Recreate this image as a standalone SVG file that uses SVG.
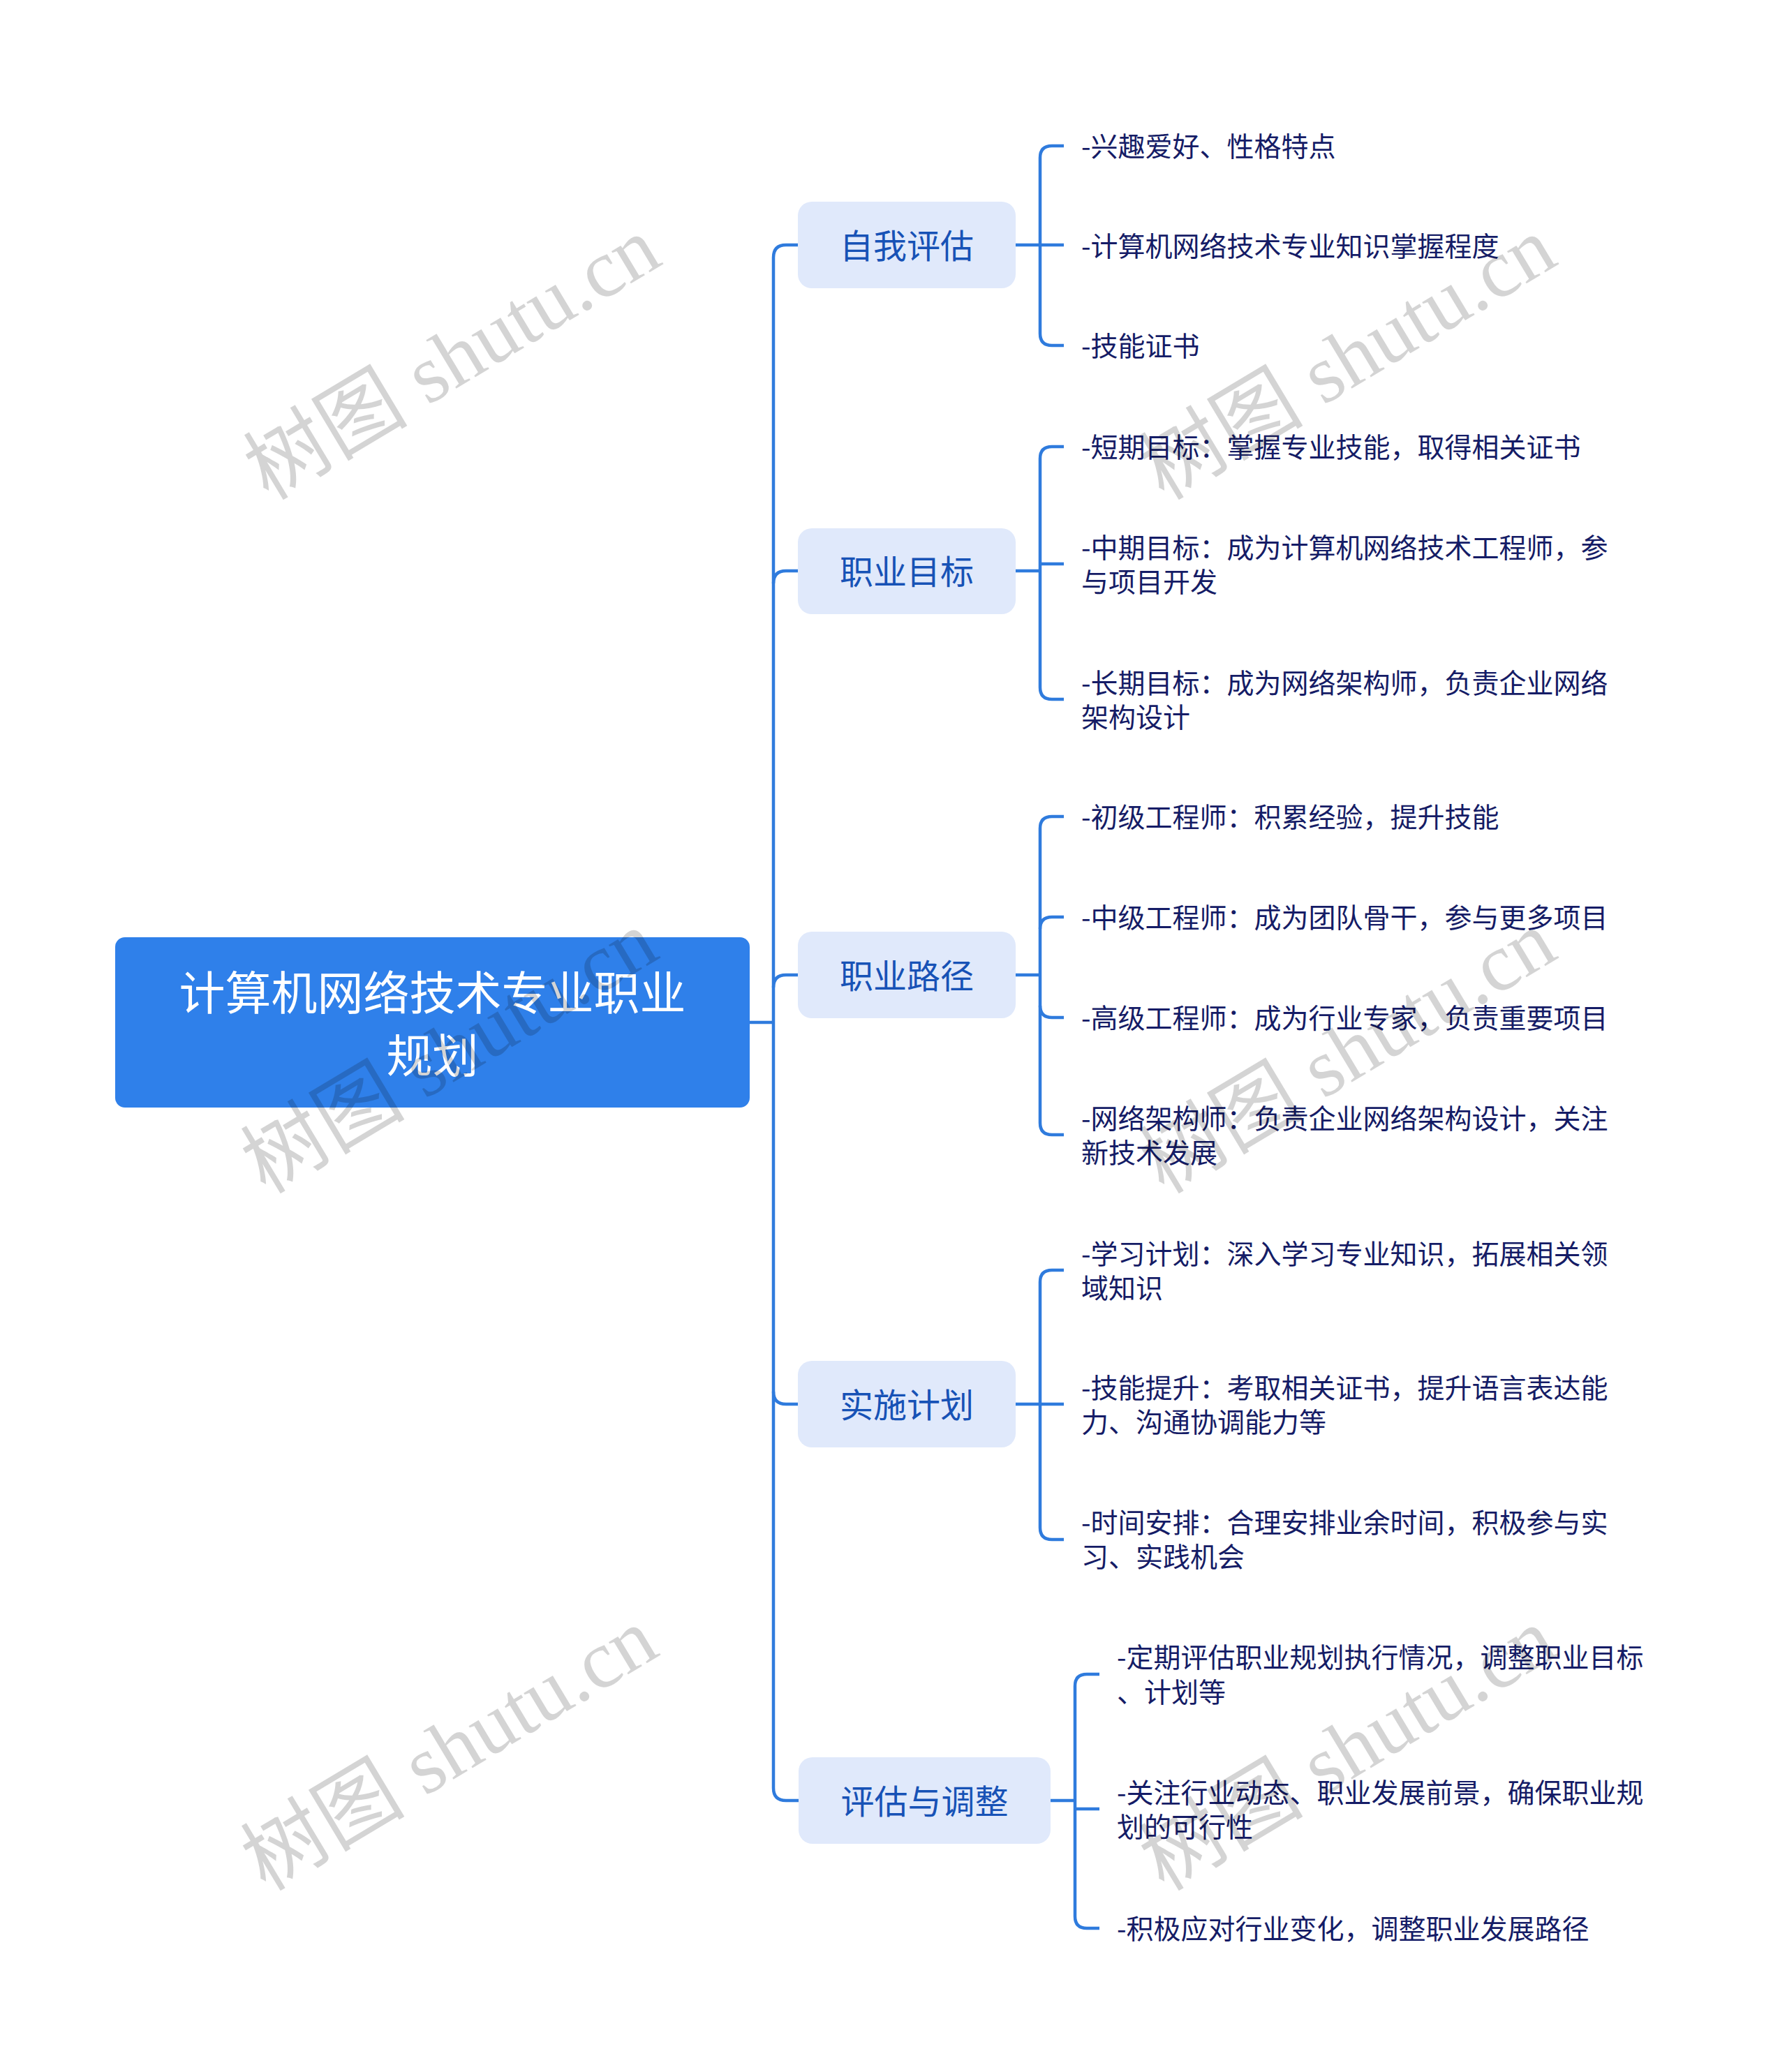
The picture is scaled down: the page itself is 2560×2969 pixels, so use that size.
<svg xmlns="http://www.w3.org/2000/svg" width="2560" height="2969" viewBox="0 0 2560 2969">
<style>
.root{fill:#2F80EA;}
.rt{font-family:"Noto Sans CJK SC","Noto Sans",sans-serif;font-size:66px;fill:#FFFFFF;text-anchor:middle;dominant-baseline:central;}
.br{fill:#E0E9FB;}
.bt{font-family:"Noto Sans CJK SC","Noto Sans",sans-serif;font-size:48px;fill:#1752B6;text-anchor:middle;dominant-baseline:central;}
.lt{font-family:"Noto Sans CJK SC","Noto Sans",sans-serif;font-size:39px;fill:#151C66;dominant-baseline:central;}
.ln{fill:none;stroke:#2F7BDD;stroke-width:4.5;stroke-linecap:butt;}
.wm{font-family:"Liberation Serif","Noto Sans CJK SC",serif;font-size:118px;fill:#000;fill-opacity:0.17;text-anchor:middle;dominant-baseline:central;}
</style>
<rect width="2560" height="2969" fill="#FFFFFF"/>
<g id="connectors">
  <path class="ln" d="M1074 1465 H1108"/>
  <path class="ln" d="M1143 351 H1126 Q1108 351 1108 369 V2562 Q1108 2580 1126 2580 H1144"/>
  <path class="ln" d="M1108 836 Q1108 818 1126 818 H1143"/>
  <path class="ln" d="M1108 1415 Q1108 1397 1126 1397 H1143"/>
  <path class="ln" d="M1108 1994 Q1108 2012 1126 2012 H1143"/>
  <path class="ln" d="M1455 351 H1524"/>
  <path class="ln" d="M1524 209 H1507 Q1490 209 1490 226 V478 Q1490 495 1507 495 H1524"/>
  <path class="ln" d="M1455 818 H1490"/>
  <path class="ln" d="M1524 640 H1507 Q1490 640 1490 657 V985 Q1490 1002 1507 1002 H1524"/>
  <path class="ln" d="M1490 808 H1524"/>
  <path class="ln" d="M1455 1397 H1490"/>
  <path class="ln" d="M1524 1170 H1507 Q1490 1170 1490 1187 V1609 Q1490 1626 1507 1626 H1524"/>
  <path class="ln" d="M1524 1314 H1507 Q1490 1314 1490 1331"/>
  <path class="ln" d="M1524 1458 H1507 Q1490 1458 1490 1441"/>
  <path class="ln" d="M1455 2012 H1524"/>
  <path class="ln" d="M1524 1820 H1507 Q1490 1820 1490 1837 V2189 Q1490 2206 1507 2206 H1524"/>
  <path class="ln" d="M1505 2580 H1540"/>
  <path class="ln" d="M1575 2399 H1557 Q1540 2399 1540 2416 V2746 Q1540 2763 1557 2763 H1575"/>
  <path class="ln" d="M1540 2592 H1575"/>
</g>
<g id="root">
  <rect class="root" x="165" y="1343" width="909" height="244" rx="14"/>
  <text class="rt" x="619.5" y="1418">计算机网络技术专业职业</text>
  <text class="rt" x="619.5" y="1508">规划</text>
</g>
<g id="b1">
  <rect class="br" x="1143" y="289" width="312" height="124" rx="20"/>
  <text class="bt" x="1299" y="349">自我评估</text>
</g>
<g id="b2">
  <rect class="br" x="1143" y="757" width="312" height="123" rx="20"/>
  <text class="bt" x="1299" y="816">职业目标</text>
</g>
<g id="b3">
  <rect class="br" x="1143" y="1335" width="312" height="124" rx="20"/>
  <text class="bt" x="1299" y="1395">职业路径</text>
</g>
<g id="b4">
  <rect class="br" x="1143" y="1950" width="312" height="124" rx="20"/>
  <text class="bt" x="1299" y="2010">实施计划</text>
</g>
<g id="b5">
  <rect class="br" x="1144" y="2518" width="361" height="124" rx="20"/>
  <text class="bt" x="1324.5" y="2578">评估与调整</text>
</g>
<g id="l1a"><text class="lt" x="1549" y="207">-兴趣爱好、性格特点</text></g>
<g id="l1b"><text class="lt" x="1549" y="350">-计算机网络技术专业知识掌握程度</text></g>
<g id="l1c"><text class="lt" x="1549" y="493">-技能证书</text></g>
<g id="l2a"><text class="lt" x="1549" y="638">-短期目标：掌握专业技能，取得相关证书</text></g>
<g id="l2b"><text class="lt" x="1549" y="782">-中期目标：成为计算机网络技术工程师，参</text><text class="lt" x="1549" y="831">与项目开发</text></g>
<g id="l2c"><text class="lt" x="1549" y="976">-长期目标：成为网络架构师，负责企业网络</text><text class="lt" x="1549" y="1025">架构设计</text></g>
<g id="l3a"><text class="lt" x="1549" y="1168">-初级工程师：积累经验，提升技能</text></g>
<g id="l3b"><text class="lt" x="1549" y="1312">-中级工程师：成为团队骨干，参与更多项目</text></g>
<g id="l3c"><text class="lt" x="1549" y="1456">-高级工程师：成为行业专家，负责重要项目</text></g>
<g id="l3d"><text class="lt" x="1549" y="1600">-网络架构师：负责企业网络架构设计，关注</text><text class="lt" x="1549" y="1649">新技术发展</text></g>
<g id="l4a"><text class="lt" x="1549" y="1794">-学习计划：深入学习专业知识，拓展相关领</text><text class="lt" x="1549" y="1843">域知识</text></g>
<g id="l4b"><text class="lt" x="1549" y="1986">-技能提升：考取相关证书，提升语言表达能</text><text class="lt" x="1549" y="2035">力、沟通协调能力等</text></g>
<g id="l4c"><text class="lt" x="1549" y="2179">-时间安排：合理安排业余时间，积极参与实</text><text class="lt" x="1549" y="2228">习、实践机会</text></g>
<g id="l5a"><text class="lt" x="1600" y="2372">-定期评估职业规划执行情况，调整职业目标</text><text class="lt" x="1600" y="2422">、计划等</text></g>
<g id="l5b"><text class="lt" x="1600" y="2566">-关注行业动态、职业发展前景，确保职业规</text><text class="lt" x="1600" y="2615">划的可行性</text></g>
<g id="l5c"><text class="lt" x="1600" y="2761">-积极应对行业变化，调整职业发展路径</text></g>
<g id="watermarks">
  <text class="wm" x="648" y="514" transform="rotate(-31 648 514)">树图 shutu.cn</text>
  <text class="wm" x="1931" y="514" transform="rotate(-31 1931 514)">树图 shutu.cn</text>
  <text class="wm" x="644" y="1508" transform="rotate(-31 644 1508)">树图 shutu.cn</text>
  <text class="wm" x="1931" y="1508" transform="rotate(-31 1931 1508)">树图 shutu.cn</text>
  <text class="wm" x="644" y="2507" transform="rotate(-31 644 2507)">树图 shutu.cn</text>
  <text class="wm" x="1931" y="2507" transform="rotate(-31 1931 2507)">树图 shutu.cn</text>
</g>
</svg>
